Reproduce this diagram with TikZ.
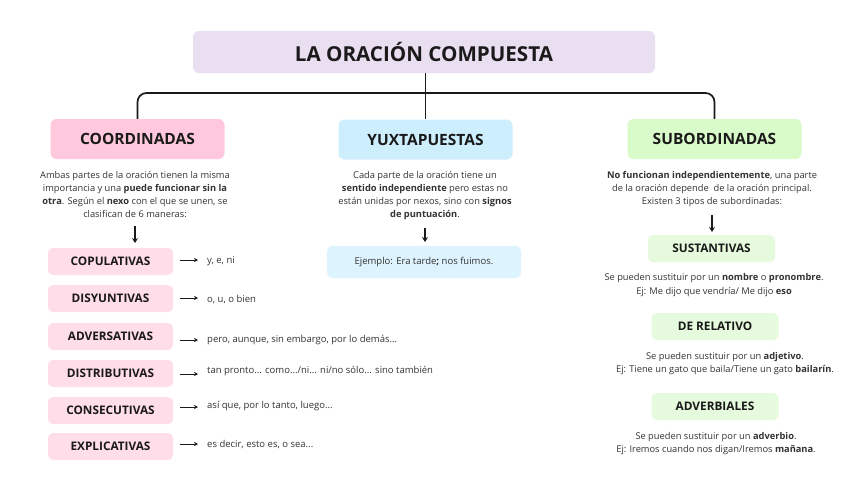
\documentclass[tikz,border=0pt]{standalone}
\usepackage{fontspec}
\setmainfont{Open Sans}
\usetikzlibrary{arrows.meta}
\definecolor{titlec}{HTML}{EADEF1}
\definecolor{coordc}{HTML}{FFC8DC}
\definecolor{coordl}{HTML}{FFDDE9}
\definecolor{yuxc}{HTML}{CDEEFD}
\definecolor{yuxl}{HTML}{DDF3FD}
\definecolor{subc}{HTML}{D9FAC9}
\definecolor{subl}{HTML}{E6FBDD}
\definecolor{ink}{HTML}{1A1A1A}
\definecolor{txt}{HTML}{333333}
\tikzset{
  titlebox/.style={rounded corners=6pt, fill=titlec, minimum width=462, minimum height=42, text=ink, font=\fontsize{20.6}{24}\selectfont\bfseries},
  headbox/.style={rounded corners=6pt, minimum width=174, minimum height=40, text=ink, font=\fontsize{15.5}{18}\selectfont\bfseries},
  listbox/.style={rounded corners=5pt, fill=coordl, minimum width=125, minimum height=27, text=ink, font=\fontsize{11.8}{13}\selectfont\bfseries},
  subbox/.style={rounded corners=5pt, fill=subl, minimum width=127, minimum height=27, text=ink, font=\fontsize{11.8}{13}\selectfont\bfseries},
  desc/.style={align=center, text=txt, inner sep=0pt, font=\fontsize{9.3}{13.2}\selectfont},
  itemtxt/.style={anchor=west, text=txt, inner sep=0pt, font=\fontsize{9.5}{12}\selectfont},
  tree/.style={line width=1.7pt, draw=ink},
  darr/.style={line width=1.4pt, draw=ink, -{Stealth[length=5pt,width=6pt]}},
  harr/.style={line width=1pt, draw=ink, -{Stealth[length=4pt,width=4pt]}}
}
\begin{document}
\begin{tikzpicture}[x=1pt,y=-1pt]
\useasboundingbox[fill=white] (0,0) rectangle (848,477);
% title
\node[titlebox] (title) at (424,52) {LA ORACIÓN COMPUESTA};
% heads
\node[headbox, fill=coordc] (coord) at (137.5,139) {COORDINADAS};
\node[headbox, fill=yuxc] (yux) at (425.5,139.5) {YUXTAPUESTAS};
\node[headbox, fill=subc] (sub) at (714.5,139) {SUBORDINADAS};
% tree
\draw[tree] (title.south -| yux.north) -- (yux.north);
\draw[tree, rounded corners=9pt] (coord.north) -- (coord.north |- 0,93) -- (sub.north |- 0,93) -- (sub.north);
% left description
\node[desc] (ldesc) at (135,194.5) {Ambas partes de la oración tienen la misma\\importancia y una \textbf{puede funcionar sin la}\\\textbf{otra}. Según el \textbf{nexo} con el que se unen, se\\clasifican de 6 maneras:};
\coordinate (ldend) at (135,243);
\draw[darr] ([yshift=-8pt]ldesc.south) -- (ldend);
% left list
\node[listbox] (cop) at (110.5,261.5) {COPULATIVAS};
\node[listbox] (dis) at (110.5,298.5) {DISYUNTIVAS};
\node[listbox] (adv) at (110.5,336.5) {ADVERSATIVAS};
\node[listbox] (dist) at (110.5,373.5) {DISTRIBUTIVAS};
\node[listbox] (cons) at (110.5,410.5) {CONSECUTIVAS};
\node[listbox] (expl) at (110.5,446.5) {EXPLICATIVAS};
\node[itemtxt] (copt) at (207,261) {y, e, ni};
\node[itemtxt] (dist_) at (207,299) {o, u, o bien};
\node[itemtxt] (advt) at (207,340) {pero, aunque, sin embargo, por lo demás...};
\node[itemtxt] (distt) at (207,371) {tan pronto... como.../ni... ni/no sólo... sino también};
\node[itemtxt] (const) at (207,406) {así que, por lo tanto, luego...};
\node[itemtxt] (explt) at (207,444) {es decir, esto es, o sea...};
\draw[harr] ([xshift=-27pt,yshift=1pt]copt.west) -- ([xshift=-9pt,yshift=1pt]copt.west);
\draw[harr] ([xshift=-27pt,yshift=1pt]dist_.west) -- ([xshift=-9pt,yshift=1pt]dist_.west);
\draw[harr] ([xshift=-27pt]advt.west) -- ([xshift=-9pt]advt.west);
\draw[harr] ([xshift=-27pt,yshift=-3pt]distt.west) -- ([xshift=-9pt,yshift=-3pt]distt.west);
\draw[harr] ([xshift=-27pt,yshift=-1pt]const.west) -- ([xshift=-9pt,yshift=-1pt]const.west);
\draw[harr] ([xshift=-27pt]explt.west) -- ([xshift=-9pt]explt.west);
% middle
\node[desc] (mdesc) at (425,195.5) {Cada parte de la oración tiene un\\\textbf{sentido independiente} pero estas no\\están unidas por nexos, sino con \textbf{signos}\\\textbf{de puntuación}.};
\node[rounded corners=6pt, fill=yuxl, minimum width=194, minimum height=32, text=txt, font=\fontsize{9.5}{12}\selectfont] (ej) at (424,262) {Ejemplo: Era tarde\textbf{;} nos fuimos.};
\coordinate (mdend) at (425,242);
\draw[darr] ([yshift=-8pt]mdesc.south) -- (mdend);
% right
\node[desc] (rdesc) at (712,189) {\textbf{No funcionan independientemente}, una parte\\de la oración depende \ de la oración principal.\\Existen 3 tipos de subordinadas:};
\coordinate (rdend) at (712,232);
\draw[darr] ([yshift=-8pt]rdesc.south) -- (rdend);
\node[subbox] (sus) at (711.5,248.5) {SUSTANTIVAS};
\node[desc] (sust) at (714,285) {Se pueden sustituir por un \textbf{nombre} o \textbf{pronombre}.\\Ej: Me dijo que vendría/ Me dijo \textbf{eso}};
\node[subbox] (rel) at (715,326.5) {DE RELATIVO};
\node[desc] (relt) at (725,363.5) {Se pueden sustituir por un \textbf{adjetivo}.\\Ej: Tiene un gato que baila/Tiene un gato \textbf{bailarín}.};
\node[subbox] (advb) at (715,406.5) {ADVERBIALES};
\node[desc] (advbt) at (716,443.5) {Se pueden sustituir por un \textbf{adverbio}.\\Ej: Iremos cuando nos digan/Iremos \textbf{mañana}.};
\end{tikzpicture}
\end{document}
